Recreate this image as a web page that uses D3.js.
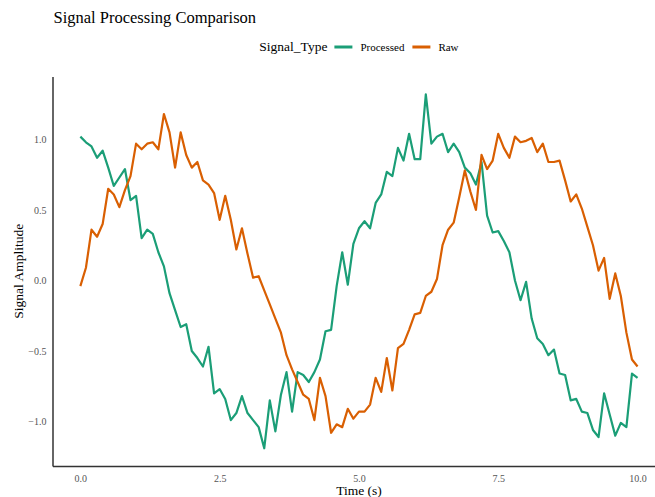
<!DOCTYPE html>
<html>
<head>
<meta charset="utf-8">
<script src="https://cdn.jsdelivr.net/npm/d3@7"></script>
<style>
  body { margin: 0; background: #fff; }
  svg { font-family: "Liberation Serif", "Times New Roman", serif; }
</style>
</head>
<body>
<svg id="chart" width="655" height="497"></svg>
<script>
const seriesNames = ["Processed", "Raw"];
const colors = ["#1b9e77", "#d95f02"];
const timeValues = d3.range(0, 101).map(i => i / 10);
const xTicks = [0, 2.5, 5, 7.5, 10];
const yTicks = [-1, -0.5, 0, 0.5, 1];

const processed = [1.02, 0.98, 0.95, 0.87, 0.92, 0.80, 0.67, 0.73, 0.79, 0.57,
  0.60, 0.30, 0.36, 0.33, 0.20, 0.10, -0.09, -0.21, -0.33, -0.31,
  -0.50, -0.55, -0.61, -0.47, -0.80, -0.77, -0.84, -0.99, -0.94, -0.82,
  -0.94, -0.99, -1.04, -1.19, -0.85, -1.07, -0.81, -0.65, -0.93, -0.65,
  -0.67, -0.72, -0.65, -0.56, -0.36, -0.35, -0.04, 0.20, -0.03, 0.26,
  0.37, 0.42, 0.37, 0.55, 0.61, 0.77, 0.74, 0.94, 0.85, 1.04,
  0.86, 0.86, 1.32, 0.97, 1.02, 1.04, 0.91, 0.97, 0.91, 0.80,
  0.76, 0.68, 0.84, 0.46, 0.34, 0.35, 0.28, 0.20, 0.00, -0.14,
  -0.01, -0.27, -0.41, -0.45, -0.53, -0.49, -0.66, -0.67, -0.85, -0.84,
  -0.93, -0.94, -1.06, -1.11, -0.80, -0.95, -1.10, -1.01, -1.04, -0.66,
  -0.69];

const raw = [-0.04, 0.09, 0.36, 0.31, 0.40, 0.65, 0.61, 0.52, 0.64, 0.74,
  0.97, 0.93, 0.97, 0.98, 0.93, 1.18, 1.05, 0.80, 1.05, 0.89,
  0.80, 0.84, 0.71, 0.68, 0.62, 0.43, 0.60, 0.43, 0.22, 0.37,
  0.19, 0.02, 0.03, -0.07, -0.17, -0.27, -0.37, -0.53, -0.63, -0.72,
  -0.81, -0.84, -0.99, -0.69, -0.82, -1.08, -1.02, -1.04, -0.91, -0.98,
  -0.93, -0.93, -0.88, -0.69, -0.79, -0.55, -0.78, -0.48, -0.45, -0.35,
  -0.24, -0.23, -0.11, -0.08, 0.01, 0.25, 0.36, 0.41, 0.59, 0.78,
  0.63, 0.50, 0.89, 0.79, 0.85, 1.04, 0.94, 0.87, 1.02, 0.98,
  0.99, 1.01, 0.91, 0.97, 0.84, 0.84, 0.85, 0.71, 0.56, 0.61,
  0.51, 0.38, 0.25, 0.07, 0.16, -0.13, 0.05, -0.11, -0.37, -0.56,
  -0.61];

const series = [processed, raw].map((vals, k) => ({
  name: seriesNames[k],
  color: colors[k],
  points: vals.map((v, i) => ({ t: timeValues[i], v }))
}));

const svg = d3.select("#chart");

// panel: ggplot-like 5% expansion on both axes
const xExt = d3.extent(timeValues);
const allV = processed.concat(raw);
const yExt = d3.extent(allV);
const xPad = (xExt[1] - xExt[0]) * 0.05, yPad = (yExt[1] - yExt[0]) * 0.05;

const pLeft = 52.5, pRight = 665.4, pTop = 76.6, pBottom = 466;
const x = d3.scaleLinear().domain([xExt[0] - xPad, xExt[1] + xPad]).range([pLeft, pRight]);
const y = d3.scaleLinear().domain([yExt[0] - yPad, yExt[1] + yPad]).range([pBottom, pTop]);

const line = d3.line().x(d => x(d.t)).y(d => y(d.v));

svg.selectAll(".series")
  .data(series)
  .enter().append("path")
  .attr("class", "series")
  .attr("d", d => line(d.points))
  .attr("fill", "none")
  .attr("stroke", d => d.color)
  .attr("stroke-width", 2.2)
  .attr("stroke-linejoin", "round");

// axes
const xAxis = svg.append("g")
  .attr("transform", `translate(0,${pBottom})`)
  .call(d3.axisBottom(x).tickValues(xTicks).tickSize(0).tickSizeOuter(0).tickPadding(9).tickFormat(d3.format(".1f")));
const yAxis = svg.append("g")
  .attr("transform", `translate(${pLeft},0)`)
  .call(d3.axisLeft(y).tickValues(yTicks).tickSize(0).tickSizeOuter(0).tickPadding(6).tickFormat(d3.format(".1f")));

[xAxis, yAxis].forEach(g => {
  g.select(".domain").attr("stroke", "#333").attr("stroke-width", 1.5);
  g.selectAll("text")
    .style("font-family", "Liberation Serif, Times New Roman, serif")
    .style("font-size", "10px")
    .attr("fill", "#555");
});

// axis titles
svg.append("text")
  .attr("x", (pLeft + pRight) / 2)
  .attr("y", 495)
  .attr("text-anchor", "middle")
  .style("font-size", "13.5px")
  .attr("fill", "#000")
  .text("Time (s)");

svg.append("text")
  .attr("transform", `translate(23,${(pTop + pBottom) / 2}) rotate(-90)`)
  .attr("text-anchor", "middle")
  .style("font-size", "13.5px")
  .attr("fill", "#000")
  .text("Signal Amplitude");

// title
svg.append("text")
  .attr("x", pLeft + 1)
  .attr("y", 23)
  .style("font-size", "16.5px")
  .attr("fill", "#000")
  .text("Signal Processing Comparison");

// legend
const legend = svg.append("g").attr("transform", "translate(0,51)");
let cx = 0;
const legTitle = legend.append("text").attr("x", 0).style("font-size", "13.5px").text("Signal_Type");
cx = legTitle.node().getComputedTextLength() + 7;
series.forEach(s => {
  legend.append("line")
    .attr("x1", cx).attr("x2", cx + 18)
    .attr("y1", -4).attr("y2", -4)
    .attr("stroke", s.color).attr("stroke-width", 3);
  cx += 26;
  const t = legend.append("text").attr("x", cx).style("font-size", "11px").text(s.name);
  cx += t.node().getComputedTextLength() + 8;
});
cx -= 8;
legend.attr("transform", `translate(${(pLeft + pRight) / 2 - cx / 2},51)`);
</script>
</body>
</html>
